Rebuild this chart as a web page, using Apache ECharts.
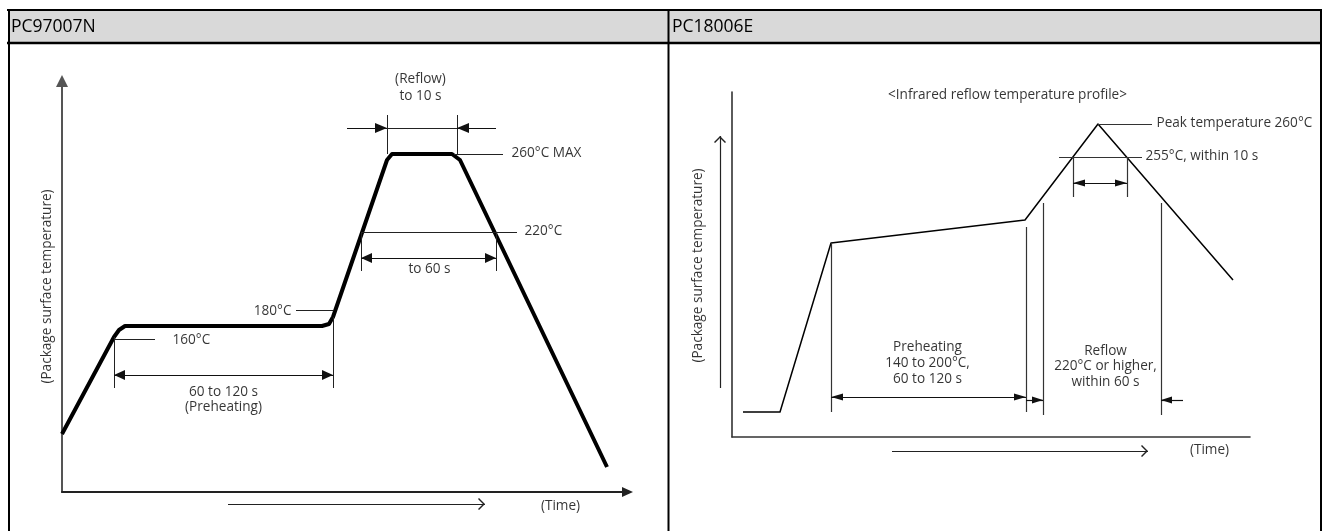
<!DOCTYPE html>
<html><head><meta charset="utf-8">
<script src="https://cdn.jsdelivr.net/npm/echarts@6/dist/echarts.min.js"></script>
<style>html,body{margin:0;padding:0;background:#fff}#c{width:1322px;height:531px}</style>
</head><body><div id="c"></div>
<script>
// ---------- data (schematic units of each panel's time / temperature axes) ----------
const panelTitles = ['PC97007N', 'PC18006E'];

// PC97007N reflow profile
const leftProfileX = [0, 52, 57, 63, 260, 267, 271, 325, 330, 390, 398, 545];
const leftProfileY = [58, 155, 162, 166, 166, 168, 175, 332, 338, 338, 332, 25];
const leftGuides = [[52,153,93,153],[52,155,52,104],[271,175,271,104],[234,182,271,182],
  [299,260,455,260],[299,260,299,221],[434,260,434,221],[392,338,441,338],
  [325,377,325,338],[395,377,395,338],[325,364,395,364]];
const leftDoubleArrows = [[52,117,271,117],[299,234,434,234]];
const leftSingleArrows = [[285,364,325,364],[434,364,395,364]];
const leftOpenArrows = [[166,-12,423,-12]];
const leftLabels = ['160°C','180°C','220°C','260°C MAX','to 60 s','60 to 120 s\n(Preheating)','(Reflow)\nto 10 s','(Time)','(Package surface temperature)'];
const leftLabelX = [111,230,463,450,368,162,359,499,-14];
const leftLabelY = [151,180,260,338,222,92,404,-15,205];
const leftLabelAlign = ['left','right','left','left','center','center','center','center','center'];
const leftLabelRotate = [0,0,0,0,0,0,0,0,90];
const leftLabelLineHeight = [16,16,16,16,16,15,17,16,16];

// PC18006E infrared reflow profile
const rightProfileX = [11, 48, 99, 293, 366, 501];
const rightProfileY = [25, 25, 194, 217, 313, 157];
const rightGuides = [[366,313,420,313],[327,280,410,280],[341,280,341,240],[395,280,395,240],
  [99,194,99,25],[294,210,294,25],[311,234,311,22],[429,234,429,22]];
const rightDoubleArrows = [[341,254,395,254],[99,40,294,40]];
const rightSingleArrows = [[294,37,311,37],[451,37,429,37]];
const rightOpenArrows = [[-12,49,-12,301],[160,-14,416,-14]];
const rightLabels = ['<Infrared reflow temperature profile>','Peak temperature 260°C','255°C, within 10 s',
  'Preheating\n140 to 200°C,\n60 to 120 s','Reflow\n220°C or higher,\nwithin 60 s','(Time)','(Package surface temperature)'];
const rightLabelX = [276,425,414,196,374,478,-33];
const rightLabelY = [341,313,280,73,70,-14,171];
const rightLabelAlign = ['center','left','left','center','center','center','center'];
const rightLabelRotate = [0,0,0,0,0,0,90];
const rightLabelLineHeight = [16,16,16,16,15.5,16,16];

// ---------- rendering ----------
const FONT = 'Open Sans';
const TRI = 'path://M5,10 L10,20 L0,20 Z M5,0';
const CHEV = 'path://M6,7 L12,13 L11,14 L6,9 L1,14 L0,13 Z M6,0';
const seg = a => ({coords: [[a[0], a[1]], [a[2], a[3]]]});

function linesSeries(gi, segs, symbol, size, color, width) {
  return {type: 'lines', coordinateSystem: 'cartesian2d', xAxisIndex: gi, yAxisIndex: gi,
    clip: false, silent: true, polyline: false, z: 4,
    symbol: symbol, symbolSize: size,
    lineStyle: {color: color, width: width, opacity: 1, curveness: 0},
    data: segs.map(seg)};
}
function labelSeries(gi, texts, xs, ys, aligns, rots, lhs, size) {
  return {type: 'scatter', xAxisIndex: gi, yAxisIndex: gi, clip: false, silent: true,
    symbolSize: 1, itemStyle: {color: 'rgba(0,0,0,0)'}, z: 5,
    label: {show: true, position: [0, 0], formatter: '{b}', verticalAlign: 'middle',
      color: '#000', fontFamily: FONT, fontSize: size},
    data: texts.map((t, i) => ({name: t, value: [xs[i], ys[i]],
      label: {align: aligns[i], rotate: rots[i], lineHeight: lhs[i]}}))};
}
function profileSeries(gi, xs, ys, width) {
  return {type: 'line', xAxisIndex: gi, yAxisIndex: gi, clip: false, silent: true,
    symbol: 'none', z: 3,
    lineStyle: {color: '#000', width: width, join: 'round', cap: 'butt'},
    data: xs.map((x, i) => [x, ys[i]])};
}
const hiddenBits = {axisTick: {show: false}, axisLabel: {show: false}, splitLine: {show: false}};

const chart = echarts.init(document.getElementById('c'), null, {renderer: 'canvas'});
chart.setOption({
  animation: false,
  backgroundColor: '#fff',
  textStyle: {fontFamily: FONT},
  title: [
    {text: panelTitles[0], left: 11, top: 18, padding: 0, z: 20,
     textStyle: {fontSize: 17.5, fontWeight: 'normal', color: '#000', fontFamily: FONT}},
    {text: panelTitles[1], left: 672, top: 18, padding: 0, z: 20,
     textStyle: {fontSize: 17.5, fontWeight: 'normal', color: '#000', fontFamily: FONT}}
  ],
  graphic: [
    {type: 'rect', silent: true, z: 0, shape: {x: 8, y: 10, width: 1313, height: 33}, style: {fill: '#d9d9d9'}},
    {type: 'line', silent: true, z: 1, shape: {x1: 7, y1: 10, x2: 1322, y2: 10}, style: {stroke: '#000', lineWidth: 2}},
    {type: 'line', silent: true, z: 1, shape: {x1: 7, y1: 43, x2: 1322, y2: 43}, style: {stroke: '#000', lineWidth: 2.5}},
    {type: 'line', silent: true, z: 1, shape: {x1: 9, y1: 9, x2: 9, y2: 531}, style: {stroke: '#000', lineWidth: 2}},
    {type: 'line', silent: true, z: 1, shape: {x1: 668.5, y1: 9, x2: 668.5, y2: 531}, style: {stroke: '#000', lineWidth: 2}},
    {type: 'line', silent: true, z: 1, shape: {x1: 1321, y1: 9, x2: 1321, y2: 531}, style: {stroke: '#000', lineWidth: 2}}
  ],
  grid: [
    {left: 62, top: 81, width: 565.5, height: 411, outerBoundsMode: 'none'},
    {left: 732, top: 92, width: 518, height: 345, outerBoundsMode: 'none'}
  ],
  xAxis: [
    Object.assign({type: 'value', gridIndex: 0, min: 0, max: 565.5,
      axisLine: {show: true, onZero: false, symbol: ['none', 'triangle'], symbolSize: [10, 11],
        lineStyle: {color: '#222', width: 2}}}, hiddenBits),
    Object.assign({type: 'value', gridIndex: 1, min: 0, max: 518,
      axisLine: {show: true, onZero: false, lineStyle: {color: '#333', width: 1.6}}}, hiddenBits)
  ],
  yAxis: [
    Object.assign({type: 'value', gridIndex: 0, min: 0, max: 411,
      axisLine: {show: true, onZero: false, symbol: ['none', 'triangle'], symbolSize: [12, 12],
        lineStyle: {color: '#555', width: 2}}}, hiddenBits),
    Object.assign({type: 'value', gridIndex: 1, min: 0, max: 345,
      axisLine: {show: true, onZero: false, lineStyle: {color: '#333', width: 1.6}}}, hiddenBits)
  ],
  series: [
    profileSeries(0, leftProfileX, leftProfileY, 4),
    linesSeries(0, leftGuides, ['none', 'none'], [[1, 1], [1, 1]], '#222', 1),
    linesSeries(0, leftDoubleArrows, [TRI, TRI], [[10, 22], [10, 22]], '#111', 1.2),
    linesSeries(0, leftSingleArrows, ['none', TRI], [[1, 1], [10, 24]], '#111', 1.2),
    linesSeries(0, leftOpenArrows, ['none', CHEV], [[1, 1], [12, 14]], '#222', 1.2),
    labelSeries(0, leftLabels, leftLabelX, leftLabelY, leftLabelAlign, leftLabelRotate, leftLabelLineHeight, 13.6),

    profileSeries(1, rightProfileX, rightProfileY, 1.5),
    linesSeries(1, rightGuides, ['none', 'none'], [[1, 1], [1, 1]], '#333', 1.2),
    linesSeries(1, rightDoubleArrows, [TRI, TRI], [[7, 24], [7, 24]], '#111', 1.2),
    linesSeries(1, rightSingleArrows, ['none', TRI], [[1, 1], [7, 22]], '#111', 1.2),
    linesSeries(1, rightOpenArrows, ['none', CHEV], [[1, 1], [12, 14]], '#222', 1.2),
    labelSeries(1, rightLabels, rightLabelX, rightLabelY, rightLabelAlign, rightLabelRotate, rightLabelLineHeight, 13.6)
  ]
});
</script></body></html>
